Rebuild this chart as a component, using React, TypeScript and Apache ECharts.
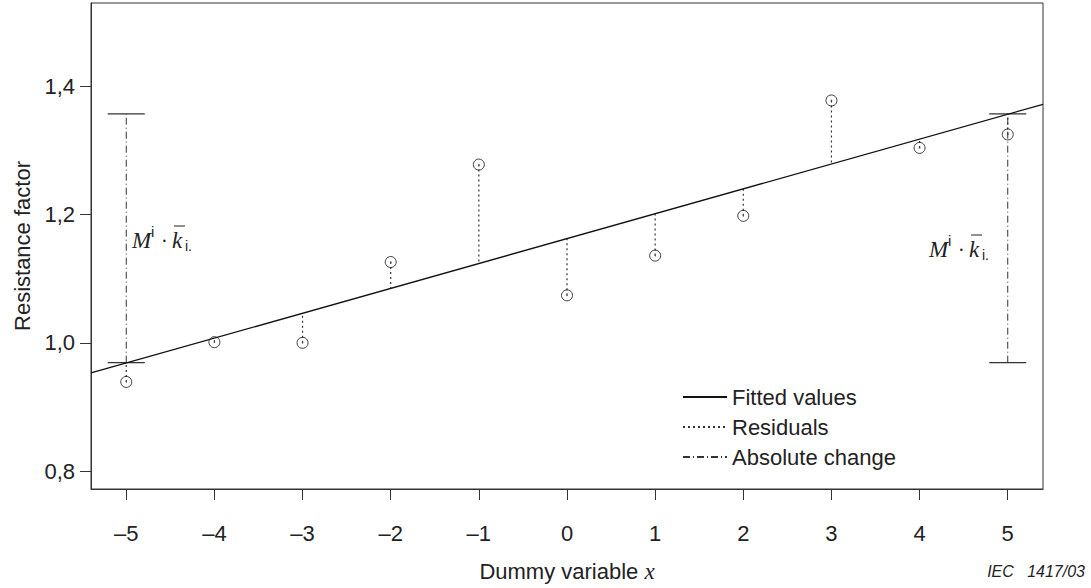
import React, { useEffect, useRef } from "react";
import * as echarts from "echarts";

// ---- data ----
const xValues = [-5, -4, -3, -2, -1, 0, 1, 2, 3, 4, 5];
const observed = [0.939, 1.001, 1.0, 1.126, 1.278, 1.074, 1.136, 1.198, 1.378, 1.304, 1.325];
const fittedAtX = [0.969, 1.008, 1.047, 1.085, 1.124, 1.163, 1.202, 1.241, 1.279, 1.318, 1.357];
const fitLineX = [-5.4, 5.4];
const fitLineY = [0.953, 1.372];
const changeX = [-5, 5];
const changeLow = [0.969, 0.969];
const changeHigh = [1.357, 1.357];
const xTicks = [-5, -4, -3, -2, -1, 0, 1, 2, 3, 4, 5];
const yTicks = [0.8, 1.0, 1.2, 1.4];
const legendNames = ["Fitted values", "Residuals", "Absolute change"];

const INK = "#222";
const SANS = "Liberation Sans, Arial, sans-serif";
const SERIF = "Liberation Serif, Times New Roman, serif";

function formula(x: number, y: number) {
  return {
    type: "group",
    x,
    y,
    silent: true,
    children: [
      { type: "text", x: 0, y: 0, style: { text: "M", font: `italic 23px ${SERIF}`, fill: INK, verticalAlign: "middle" } },
      { type: "text", x: 19, y: -9, style: { text: "i", font: `15px ${SANS}`, fill: INK, verticalAlign: "middle" } },
      { type: "text", x: 29, y: 1, style: { text: "·", font: `20px ${SERIF}`, fill: INK, verticalAlign: "middle" } },
      { type: "text", x: 40, y: 0, style: { text: "k", font: `italic 23px ${SERIF}`, fill: INK, verticalAlign: "middle" } },
      { type: "line", shape: { x1: 42, y1: -14, x2: 53, y2: -14 }, style: { stroke: INK, lineWidth: 1 } },
      { type: "text", x: 53, y: 6, style: { text: "i.", font: `14px ${SANS}`, fill: INK, verticalAlign: "middle" } },
    ],
  };
}

export default function App() {
  const ref = useRef<HTMLDivElement>(null);
  useEffect(() => {
    if (!ref.current) return;
    const chart = echarts.init(ref.current, undefined, { renderer: "svg" });

    const residualData: any[] = [];
    xValues.forEach((x, i) => {
      residualData.push([x, observed[i]], [x, fittedAtX[i]], "-");
    });
    const changeData: any[] = [];
    const capData: any[] = [];
    const capHalf = 0.21;
    changeX.forEach((x, i) => {
      changeData.push([x, changeLow[i]], [x, changeHigh[i]], "-");
      capData.push([x - capHalf, changeLow[i]], [x + capHalf, changeLow[i]], "-");
      capData.push([x - capHalf, changeHigh[i]], [x + capHalf, changeHigh[i]], "-");
    });

    chart.setOption({
      animation: false,
      backgroundColor: "#fff",
      textStyle: { fontFamily: SANS, color: INK },
      grid: {
        left: 91,
        right: 48,
        top: 3,
        bottom: 96,
        show: true,
        borderColor: "#333",
        borderWidth: 1,
      },
      legend: {
        data: legendNames,
        orient: "vertical",
        left: 677,
        top: 381,
        itemWidth: 44,
        itemHeight: 14,
        itemGap: 8,
        itemStyle: { opacity: 0 },
        textStyle: { fontSize: 22, color: INK, fontFamily: SANS },
        selectedMode: false,
      },
      xAxis: {
        type: "value",
        min: -5.4,
        max: 5.4,
        name: "Dummy variable {i|x}",
        nameLocation: "middle",
        nameGap: 71,
        nameTextStyle: {
          fontSize: 22,
          color: INK,
          fontFamily: SANS,
          rich: { i: { fontSize: 23, fontStyle: "italic", fontFamily: SERIF, color: INK } },
        },
        axisLine: { show: true, onZero: false, lineStyle: { color: "#333", width: 1 } },
        axisTick: { show: true, length: 11, customValues: xTicks, lineStyle: { color: "#333" } },
        axisLabel: {
          customValues: xTicks,
          margin: 33,
          fontSize: 22,
          color: INK,
          fontFamily: SANS,
          formatter: (v: number) => (v < 0 ? "\u2013" + Math.abs(v) : String(v)),
        },
        splitLine: { show: false },
      },
      yAxis: {
        type: "value",
        min: 0.772,
        max: 1.53,
        name: "Resistance factor",
        nameLocation: "middle",
        nameGap: 58,
        nameTextStyle: { fontSize: 22, color: INK, fontFamily: SANS },
        axisLine: { show: true, onZero: false, lineStyle: { color: "#333", width: 1 } },
        axisTick: { show: true, length: 11, customValues: yTicks, lineStyle: { color: "#333" } },
        axisLabel: {
          customValues: yTicks,
          margin: 16,
          fontSize: 22,
          color: INK,
          fontFamily: SANS,
          formatter: (v: number) => v.toFixed(1).replace(".", ","),
        },
        splitLine: { show: false },
      },
      series: [
        {
          name: "Fitted values",
          type: "line",
          data: fitLineX.map((x, i) => [x, fitLineY[i]]),
          symbol: "none",
          lineStyle: { color: "#111", width: 1.3, type: "solid" },
          itemStyle: { color: "#111" },
          z: 3,
        },
        {
          name: "Residuals",
          type: "line",
          data: residualData,
          connectNulls: false,
          symbol: "none",
          lineStyle: { color: "#333", width: 1.2, type: [2, 3] },
          itemStyle: { color: "#333" },
          z: 2,
        },
        {
          name: "Absolute change",
          type: "line",
          data: changeData,
          connectNulls: false,
          symbol: "none",
          lineStyle: { color: "#333", width: 1, type: [7, 3, 1, 3] },
          itemStyle: { color: "#333" },
          z: 2,
        },
        {
          name: "caps",
          type: "line",
          data: capData,
          connectNulls: false,
          symbol: "none",
          lineStyle: { color: "#333", width: 1.2 },
          z: 2,
        },
        {
          name: "Observed",
          type: "scatter",
          data: xValues.map((x, i) => [x, observed[i]]),
          symbol: "circle",
          symbolSize: 11,
          itemStyle: { color: "rgba(255,255,255,0)", borderColor: "#111", borderWidth: 1 },
          z: 4,
        },
        {
          name: "ObservedDot",
          type: "scatter",
          data: xValues.map((x, i) => [x, observed[i]]),
          symbol: "circle",
          symbolSize: 1.6,
          itemStyle: { color: "#444" },
          z: 4,
        },
      ],
      graphic: [
        formula(132, 240),
        formula(929, 249),
        {
          type: "text",
          right: 6,
          top: 563,
          style: { text: "IEC   1417/03", font: `italic 16px ${SANS}`, fill: INK },
        },
      ],
    });
    return () => chart.dispose();
  }, []);
  return (
    <div
      ref={ref}
      style={{ position: "fixed", left: 0, top: 0, width: 1091, height: 588, background: "#fff" }}
    />
  );
}
